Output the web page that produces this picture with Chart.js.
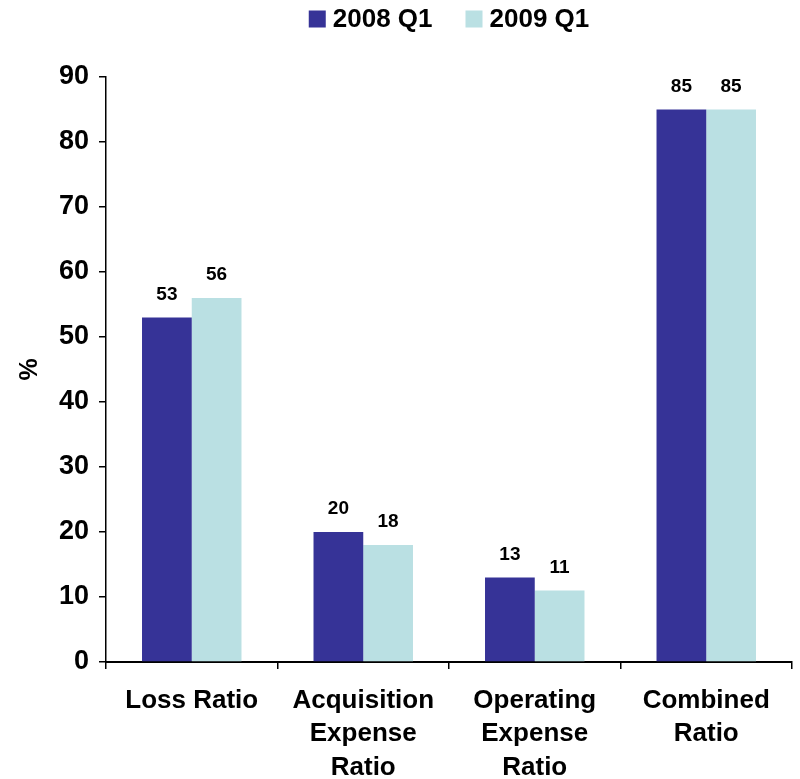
<!DOCTYPE html>
<html>
<head>
<meta charset="utf-8">
<script src="https://cdn.jsdelivr.net/npm/chart.js@4.4.1/dist/chart.umd.min.js"></script>
<style>
  html, body { margin: 0; padding: 0; background: #ffffff; }
  #wrap { width: 800px; height: 779px; }
</style>
</head>
<body>
<div id="wrap"><canvas id="chart" width="800" height="779"></canvas></div>
<script>
// Ratios by quarter, in percent
const categories = [
  ["Loss Ratio"],
  ["Acquisition", "Expense", "Ratio"],
  ["Operating", "Expense", "Ratio"],
  ["Combined", "Ratio"]
];
const seriesNames = ["2008 Q1", "2009 Q1"];
const values2008 = [53, 20, 13, 85];
const values2009 = [56, 18, 11, 85];
const yTicks = [0, 10, 20, 30, 40, 50, 60, 70, 80, 90];

const colors = ["#363397", "#BAE0E3"];
const FONT = "'Liberation Sans', Arial, sans-serif";

// Value labels above each bar
const valueLabels = {
  id: 'valueLabels',
  afterDatasetsDraw(chart) {
    const ctx = chart.ctx;
    ctx.save();
    ctx.font = "bold 19px " + FONT;
    ctx.fillStyle = "#000";
    ctx.textAlign = "center";
    ctx.textBaseline = "alphabetic";
    chart.data.datasets.forEach((ds, i) => {
      chart.getDatasetMeta(i).data.forEach((bar, j) => {
        ctx.fillText(String(Math.round(ds.data[j])), bar.x, bar.y - 18);
      });
    });
    ctx.restore();
  }
};

// Legend centred over the plot area
const topLegend = {
  id: 'topLegend',
  afterDraw(chart) {
    const ctx = chart.ctx;
    const area = chart.chartArea;
    ctx.save();
    ctx.font = "bold 26px " + FONT;
    ctx.textBaseline = "middle";
    ctx.textAlign = "left";
    const box = 17, gapBox = 7, gapItem = 33;
    const widths = seriesNames.map(n => ctx.measureText(n).width);
    const total = widths.reduce((a, w) => a + box + gapBox + w, 0) + gapItem * (seriesNames.length - 1);
    let x = (area.left + area.right) / 2 - total / 2;
    const cy = 19;
    seriesNames.forEach((name, i) => {
      ctx.fillStyle = colors[i];
      ctx.fillRect(x, cy - box / 2, box, box);
      x += box + gapBox;
      ctx.fillStyle = "#000";
      ctx.fillText(name, x, cy + 1);
      x += widths[i] + gapItem;
    });
    ctx.restore();
  }
};

new Chart(document.getElementById('chart'), {
  type: 'bar',
  data: {
    labels: categories,
    datasets: [
      { label: seriesNames[0], data: values2008, backgroundColor: colors[0], borderWidth: 0 },
      { label: seriesNames[1], data: values2009, backgroundColor: colors[1], borderWidth: 0 }
    ]
  },
  options: {
    responsive: false,
    animation: false,
    devicePixelRatio: 1,
    layout: { padding: { top: 77, right: 8, left: 0, bottom: 0 } },
    datasets: { bar: { categoryPercentage: 0.58, barPercentage: 1.0 } },
    plugins: {
      legend: { display: false },
      tooltip: { enabled: false }
    },
    scales: {
      x: {
        grid: { drawOnChartArea: false, drawTicks: true, tickLength: 7, color: "#000", lineWidth: 1.5, offset: true },
        border: { color: "#000", width: 2 },
        ticks: {
          color: "#000",
          font: { family: FONT, size: 26, weight: 'bold', lineHeight: 1.29 },
          padding: 15,
          maxRotation: 0,
          autoSkip: false
        },
        afterFit(scale) { scale.height = 117; }
      },
      y: {
        min: 0,
        max: 90,
        afterBuildTicks(scale) { scale.ticks = yTicks.map(v => ({ value: v })); },
        grid: { drawOnChartArea: false, drawTicks: true, tickLength: 7, color: "#000", lineWidth: 1.5 },
        border: { color: "#000", width: 1.5 },
        ticks: {
          color: "#000",
          font: { family: FONT, size: 27, weight: 'bold' },
          padding: 10
        },
        title: {
          display: true,
          text: "%",
          color: "#000",
          font: { family: FONT, size: 25, weight: 'bold' },
          padding: { top: 15, bottom: 0 }
        },
        afterFit(scale) { scale.width = 106; }
      }
    }
  },
  plugins: [valueLabels, topLegend]
});
</script>
</body>
</html>
